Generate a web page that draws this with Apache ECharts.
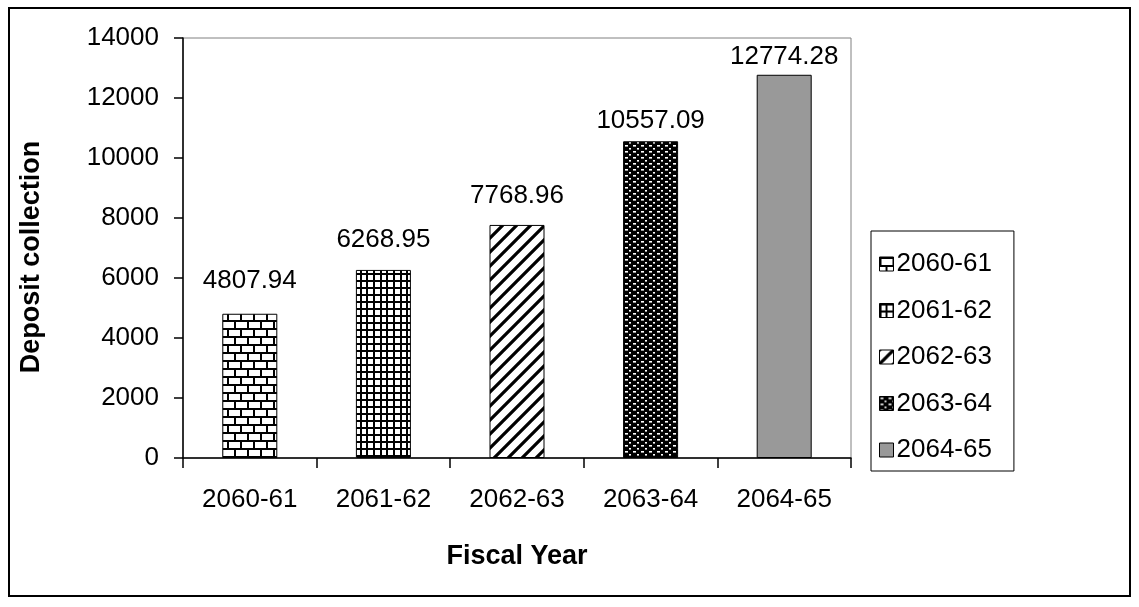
<!DOCTYPE html>
<html>
<head>
<meta charset="utf-8">
<script src="https://cdn.jsdelivr.net/npm/echarts@6/dist/echarts.min.js"></script>
<style>
  html, body { margin: 0; padding: 0; background: #ffffff; }
  #chart { width: 1139px; height: 607px; }
</style>
</head>
<body>
<div id="chart"></div>
<script>
// Deposit collection by fiscal year
const categories = ['2060-61', '2061-62', '2062-63', '2063-64', '2064-65'];
const depositValues = [4807.94, 6268.95, 7768.96, 10557.09, 12774.28];
const yTicks = { min: 0, max: 14000, interval: 2000 };

// Fill patterns drawn on small canvases
function makeTile(w, h, draw) {
  const c = document.createElement('canvas');
  c.width = w; c.height = h;
  const g = c.getContext('2d');
  g.fillStyle = '#ffffff';
  g.fillRect(0, 0, w, h);
  draw(g, w, h);
  return { image: c, repeat: 'repeat' };
}

const brick = makeTile(26, 16, (g) => {
  g.fillStyle = '#000';
  g.fillRect(0, 0, 26, 2);
  g.fillRect(0, 8, 26, 2);
  g.fillRect(0, 0, 2, 8);
  g.fillRect(13, 0, 2, 8);
  g.fillRect(6, 8, 2, 8);
  g.fillRect(19, 8, 2, 8);
});

const grid = makeTile(20, 7, (g) => {
  g.fillStyle = '#000';
  g.fillRect(0, 0, 20, 2);
  g.fillRect(0, 0, 2, 7);
  g.fillRect(6, 0, 2, 7);
  g.fillRect(13, 0, 2, 7);
});

const diagonal = makeTile(14, 14, (g) => {
  g.strokeStyle = '#000';
  g.lineWidth = 3.2;
  g.beginPath();
  g.moveTo(-2, 16); g.lineTo(16, -2);
  g.moveTo(-9, 9); g.lineTo(9, -9);
  g.moveTo(5, 23); g.lineTo(23, 5);
  g.stroke();
});

const dense = makeTile(8, 6, (g) => {
  g.fillStyle = '#000';
  g.fillRect(0, 0, 8, 6);
  g.fillStyle = '#ffffff';
  g.fillRect(1, 1, 3, 1.6);
  g.fillRect(5, 4, 2, 1.6);
});

const fills = [brick, grid, diagonal, dense, '#999999'];
// gap between each value label and the top of its bar
const labelGaps = [20, 17, 16, 7, 5];

const font = 'Arial, "Liberation Sans", sans-serif';

const series = categories.map((name, i) => ({
  name: name,
  type: 'bar',
  stack: 'all',
  barWidth: 55,
  data: categories.map((_, j) => (j === i ? depositValues[i] : null)),
  itemStyle: { color: fills[i], borderColor: '#000', borderWidth: 1 },
  label: {
    show: true,
    position: 'top',
    distance: labelGaps[i],
    fontFamily: font,
    fontSize: 26,
    color: '#000',
    formatter: (p) => p.value.toFixed(2)
  }
}));

const chart = echarts.init(document.getElementById('chart'));
chart.setOption({
  animation: false,
  backgroundColor: '#ffffff',
  graphic: [{
    type: 'rect',
    shape: { x: 9, y: 8, width: 1121, height: 588 },
    style: { fill: 'none', stroke: '#000', lineWidth: 2 },
    z: 100
  }],
  grid: {
    left: 183, top: 38, right: 288, bottom: 149,
    show: true, borderColor: '#808080', borderWidth: 1
  },
  legend: {
    orient: 'vertical',
    left: 871, top: 231,
    padding: [20, 22, 8, 8],
    itemGap: 20.5,
    icon: 'rect',
    itemWidth: 14, itemHeight: 14,
    borderColor: '#000', borderWidth: 1,
    itemStyle: { borderColor: '#000', borderWidth: 1 },
    textStyle: { fontFamily: font, fontSize: 26, color: '#000', padding: [0, 0, 0, -2] },
    data: categories
  },
  xAxis: {
    type: 'category',
    data: categories,
    axisLine: { lineStyle: { color: '#000', width: 1.5 } },
    axisTick: { show: true, length: 10, lineStyle: { color: '#000', width: 1.5 } },
    axisLabel: { fontFamily: font, fontSize: 26, color: '#000', margin: 29 },
    name: 'Fiscal Year',
    nameLocation: 'middle',
    nameGap: 85,
    nameTextStyle: { fontFamily: font, fontSize: 27, fontWeight: 'bold', color: '#000' }
  },
  yAxis: {
    type: 'value',
    min: yTicks.min, max: yTicks.max, interval: yTicks.interval,
    splitLine: { show: false },
    axisLine: { show: true, lineStyle: { color: '#000', width: 1.5 } },
    axisTick: { show: true, length: 9, lineStyle: { color: '#000', width: 1.5 } },
    axisLabel: { fontFamily: font, fontSize: 26, color: '#000', margin: 24, formatter: (v) => String(v) },
    name: 'Deposit collection',
    nameLocation: 'middle',
    nameGap: 138,
    nameRotate: 90,
    nameTextStyle: { fontFamily: font, fontSize: 27, fontWeight: 'bold', color: '#000', padding: [0, 18, 0, 0] }
  },
  series: series
});
</script>
</body>
</html>
